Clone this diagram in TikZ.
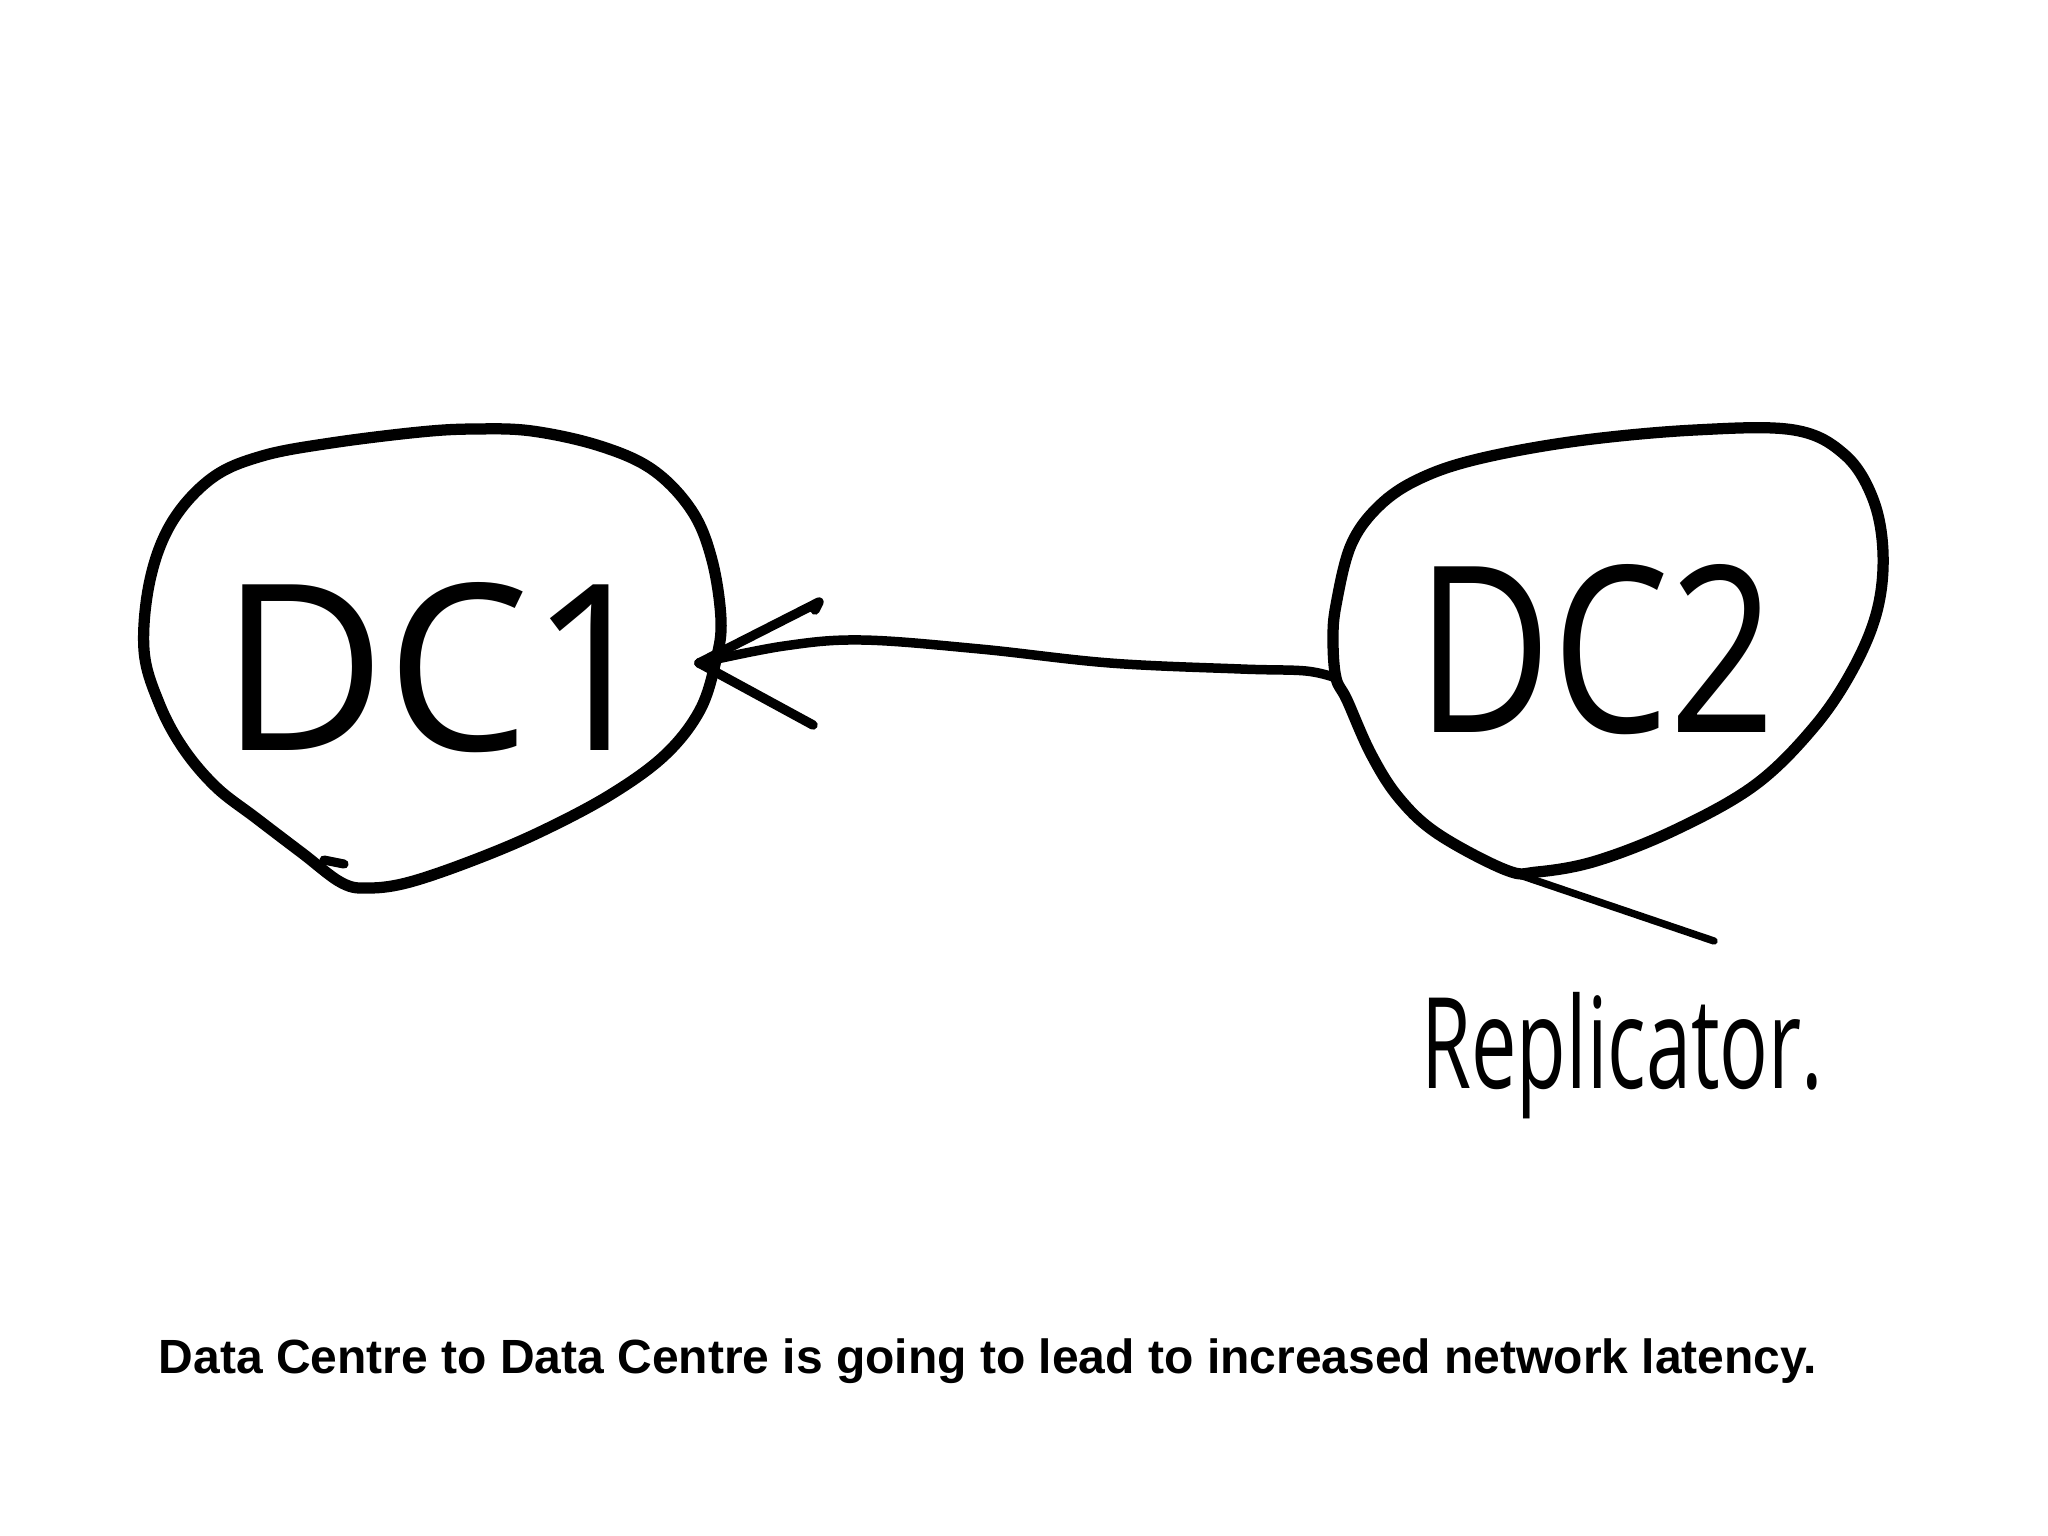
\documentclass[tikz,border=0pt]{standalone}
\usepackage{fontspec}
\setmainfont{Liberation Sans}
\newfontfamily\handfont{Open Sans}
\begin{document}
\begin{tikzpicture}[x=0.01cm,y=-0.01cm,line cap=round,line join=round,
  blob/.style={line width=3.2pt},
  link/.style={line width=2.7pt},
  pointer/.style={line width=2.1pt},
  handlabel/.style={font=\handfont\fontsize{66}{72}\selectfont,inner sep=0pt},
  replabel/.style={font=\handfont\fontsize{36}{40}\selectfont,inner sep=0pt},
  captionstyle/.style={font=\bfseries\fontsize{13.65}{16}\selectfont,inner sep=0pt}]
\useasboundingbox (0,0) rectangle (2048,1536);
\fill[white] (0,0) rectangle (2048,1536);

% DC1 blob
\draw[blob] plot[smooth cycle,tension=0.6] coordinates {
 (144,650) (150,580) (172,522) (212,478) (262,456) (331,443) (420,432) (474,429)
 (532,431) (600,446) (653,470) (692,511) (712,560) (721,620) (716,660) (700,710)
 (665,755) (610,795) (540,832) (474,860) (410,882) (370,888) (342,883) (302,853)
 (256,818) (216,787) (183,748) (159,703)};
\draw[line width=2.6pt] (324,860) -- (344,864);

% DC2 blob
\draw[blob] plot[smooth cycle,tension=0.6] coordinates {
 (1336,678) (1333,640) (1336,605) (1351,545) (1379,506) (1419,479) (1478,459)
 (1577,441) (1695,430) (1794,430) (1845,455) (1873,499) (1883,553) (1877,611)
 (1853,669) (1814,727) (1755,785) (1675,830) (1596,861) (1537,872) (1506,870)
 (1438,834) (1399,798) (1371,754) (1347,700)};

% labels
\node[handlabel,xscale=0.98] (dc1) at (440,668) {DC1};
\node[handlabel,xscale=0.8] (dc2) at (1596,650) {DC2};
\node[replabel,xscale=0.64,anchor=base west] (rep) at (1421,1088) {Replicator.};
\node[captionstyle,anchor=base] (cap) at (988,1373) {Data Centre to Data Centre is going to lead to increased network latency.};

% connector DC2 -> DC1
\coordinate (dc1e) at (699,663);
\coordinate (dc2w) at (1336,678);
\draw[link] plot[smooth,tension=0.6] coordinates {(dc2w) (1306,671) (1241,669) (1110,663) (980,649) (862,640) (784,646) (dc1e)};
\draw[link] (dc1e) -- ++(120,-61) -- ++(-4,8);
\draw[link] (dc1e) -- ++(114,62);

% pointer to Replicator
\coordinate (dc2s) at (1502,869);
\coordinate (repend) at (1714,941);
\draw[pointer] (dc2s) -- (repend);
\end{tikzpicture}
\end{document}
